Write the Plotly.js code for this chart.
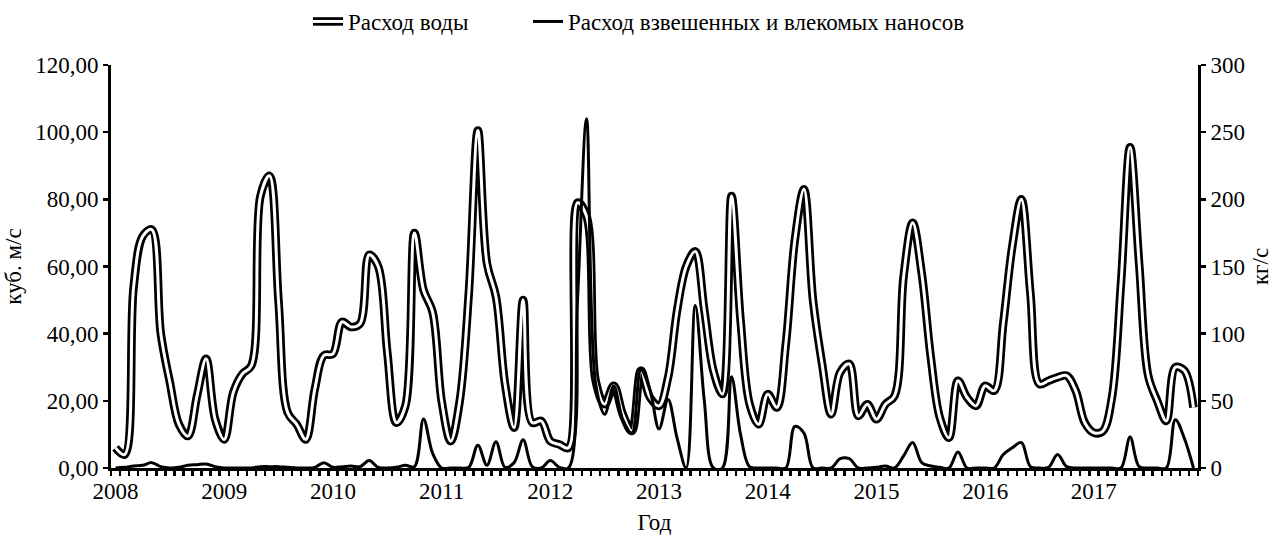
<!DOCTYPE html>
<html>
<head>
<meta charset="utf-8">
<script src="https://cdn.plot.ly/plotly-3.0.1.min.js"></script>
<style>
html,body{margin:0;padding:0;background:#ffffff;}
#chart{width:1280px;height:535px;}
</style>
</head>
<body>
<div id="chart"></div>
<script>
// Year labels (one label per 12 monthly categories)
const yearLabels = ['2008','2009','2010','2011','2012','2013','2014','2015','2016','2017'];

// Monthly water discharge, m3/s (Jan 2008 ... Dec 2017)
const waterDischarge = [
  6, 4, 54, 69, 71, 40, 25.5, 13, 9.5, 21.5, 32.5, 14.5,
  8.5, 22.5, 28, 30.5, 81, 87, 49.5, 16.5, 13, 8.5, 23.5, 33.5,
  34, 43.5, 42, 43, 63.5, 60, 34.5, 13.5, 18.5, 70, 53, 46.5,
  20, 8, 20, 52, 100.5, 61, 51, 25, 12, 50, 13.5, 14,
  8, 7, 6, 79, 75, 26, 19, 24.5, 16, 11, 29, 21,
  18.5, 27, 47, 60, 64.5, 47, 29, 22, 81, 44, 19, 13,
  22, 18, 37, 68, 83, 50, 31, 16, 28.5, 31, 15.5, 19,
  14.5, 19, 21.5, 57, 73, 58, 33, 15, 9, 26, 21, 18.5,
  24.5, 23, 43, 66, 80, 52, 25, 26, 27, 27.5, 23, 13.5,
  10.5, 11, 21, 55, 95.5, 61, 27.5, 20, 14, 30, 29, 18
];

// Monthly suspended + bed load discharge, kg/s
const sedimentDischarge = [
  0, 0.5, 1.5, 2, 4, 1, 0, 0.5, 2, 2.5, 3, 1,
  0, 0, 0, 0, 1, 1, 1, 0.5, 0, 0, 0.5, 4,
  0.5, 1, 1.5, 1, 5.5, 0.5, 0, 0.5, 2, 1, 36.5, 11,
  0, 0, 0, 0.5, 17, 2, 19.5, 0.5, 4, 21, 1, 0,
  5.5, 0.5, 0, 125, 260, 63, 40, 61, 36, 26, 73, 58,
  29, 51, 22, 0, 121, 50, 0, 0, 68, 25, 1, 0,
  0, 0, 0, 31, 26, 0, 0, 0, 7, 7, 0, 0,
  0.5, 1.5, 0, 9, 19, 4, 1.5, 0.5, 0, 12, 0, 0,
  0, 0, 10, 15, 19, 1, 0, 0.5, 10, 1, 0, 0,
  0, 0, 0, 0, 23, 1, 0, 0, 0, 36, 22, 0
];

const seriesNames = ['Расход воды', 'Расход взвешенных и влекомых наносов'];

// category index of each month
const monthIndex = waterDischarge.map((_, i) => i);
const yearTickVals = yearLabels.map((_, k) => k * 12);

const FONT = "'Liberation Serif', 'Times New Roman', 'DejaVu Serif', serif";
const FS = 23;

const traces = [
  {
    x: monthIndex, y: waterDischarge, type: 'scatter', mode: 'lines',
    name: seriesNames[0], legend: 'legend',
    line: {color: '#000000', width: 8.5, shape: 'spline', smoothing: 1},
    hoverinfo: 'skip'
  },
  {
    x: monthIndex, y: waterDischarge, type: 'scatter', mode: 'lines',
    name: ' ', legend: 'legend2',
    line: {color: '#ffffff', width: 3, shape: 'spline', smoothing: 1},
    hoverinfo: 'skip'
  },
  {
    x: monthIndex, y: sedimentDischarge, type: 'scatter', mode: 'lines',
    name: seriesNames[1], legend: 'legend3', yaxis: 'y2',
    line: {color: '#000000', width: 3, shape: 'spline', smoothing: 1},
    hoverinfo: 'skip'
  }
];

function legendAt(px) {
  return {
    orientation: 'h',
    xref: 'container', yref: 'container',
    x: px / 1280, xanchor: 'left',
    y: 1, yanchor: 'top',
    font: {family: FONT, size: FS, color: '#000'},
    bgcolor: 'rgba(0,0,0,0)',
    borderwidth: 0
  };
}

const layout = {
  width: 1280, height: 535,
  margin: {l: 111, r: 82, t: 65, b: 67},
  paper_bgcolor: '#ffffff', plot_bgcolor: '#ffffff',
  separators: ', ',
  font: {family: FONT, size: FS, color: '#000'},
  showlegend: true,
  legend: legendAt(308),
  legend2: legendAt(308),
  legend3: legendAt(528),
  xaxis: {
    range: [-0.5, 119.5],
    tickmode: 'array', tickvals: yearTickVals, ticktext: yearLabels,
    ticks: '', showgrid: false, zeroline: false,
    showline: true, linecolor: '#000', linewidth: 3,
    tickfont: {family: FONT, size: FS, color: '#000'},
    minor: {tickmode: 'linear', tick0: -0.5, dtick: 1, ticks: 'outside', ticklen: 5, tickwidth: 2.5, tickcolor: '#000', showgrid: false},
    title: {text: 'Год', font: {family: FONT, size: FS, color: '#000'}, standoff: 12},
    fixedrange: true
  },
  yaxis: {
    range: [0, 120], tickmode: 'linear', tick0: 0, dtick: 20, tickformat: '.2f',
    ticks: 'outside', ticklen: 5, tickwidth: 2.5, tickcolor: '#000',
    showgrid: false, zeroline: false,
    showline: true, linecolor: '#000', linewidth: 3,
    tickfont: {family: FONT, size: FS, color: '#000'},
    title: {text: 'куб. м/с', font: {family: FONT, size: FS, color: '#000'}, standoff: 8},
    fixedrange: true
  },
  yaxis2: {
    overlaying: 'y', side: 'right', anchor: 'x',
    range: [0, 300], tickmode: 'linear', tick0: 0, dtick: 50, tickformat: 'd',
    ticks: 'outside', ticklen: 5, tickwidth: 2.5, tickcolor: '#000',
    showgrid: false, zeroline: false,
    showline: true, linecolor: '#000', linewidth: 3,
    tickfont: {family: FONT, size: FS, color: '#000'},
    title: {text: 'кг/с', font: {family: FONT, size: FS, color: '#000'}, standoff: 8},
    fixedrange: true
  }
};

Plotly.newPlot('chart', traces, layout, {displayModeBar: false, staticPlot: true});
</script>
</body>
</html>
